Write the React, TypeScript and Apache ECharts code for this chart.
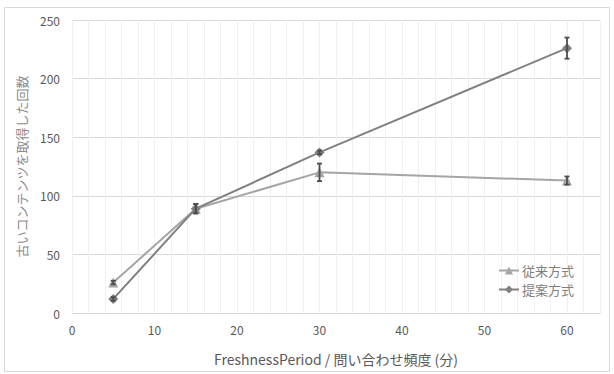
import React, { useEffect, useRef } from "react";
import * as echarts from "echarts";

const xValues = [5, 15, 30, 60];
const seriesNames = ["従来方式", "提案方式"];
const conventional = [26, 89, 120, 113];
const proposed = [12, 89, 137, 226];
const conventionalErr = [1.5, 4, 7.5, 3.5];
const proposedErr = [1.5, 4, 1.5, 9];
const xTickLabels = [0, 10, 20, 30, 40, 50, 60];
const xAxisTitle = "FreshnessPeriod / 問い合わせ頻度 (分)";
const yAxisTitle = "古いコンテンツを取得した回数";

const FONT = "'Noto Sans CJK JP', 'Noto Sans', sans-serif";

export default function App() {
  const ref = useRef<HTMLDivElement>(null);
  useEffect(() => {
    document.body.style.margin = "0";
    const chart = echarts.init(ref.current!, null, { renderer: "svg" });
    const errData = (vals: number[], errs: number[]) =>
      xValues.map((x, i) => [x, vals[i] - errs[i], vals[i] + errs[i]]);
    const errSeries = (data: number[][]) => ({
      type: "custom",
      silent: true,
      z: 5,
      data,
      renderItem: (params: any, api: any) => {
        const lo = api.coord([api.value(0), api.value(1)]);
        const hi = api.coord([api.value(0), api.value(2)]);
        const w = 2.5;
        const style = { stroke: "#4d4d4d", lineWidth: 1.8 };
        return {
          type: "group",
          children: [
            { type: "line", shape: { x1: lo[0], y1: lo[1], x2: hi[0], y2: hi[1] }, style },
            { type: "line", shape: { x1: lo[0] - w, y1: lo[1], x2: lo[0] + w, y2: lo[1] }, style },
            { type: "line", shape: { x1: hi[0] - w, y1: hi[1], x2: hi[0] + w, y2: hi[1] }, style },
          ],
        };
      },
    });
    chart.setOption({
      animation: false,
      textStyle: { fontFamily: FONT },
      graphic: [
        {
          type: "rect",
          shape: { x: 4.5, y: 7.5, width: 605, height: 364 },
          style: { fill: "none", stroke: "#d9d9d9", lineWidth: 1 },
          silent: true,
        },
      ],
      grid: { left: 72, right: 14, top: 20, bottom: 61, containLabel: false },
      legend: {
        orient: "vertical",
        right: 35,
        top: 259,
        itemWidth: 20,
        itemHeight: 10,
        itemGap: 6,
        textStyle: { color: "#7f7f7f", fontSize: 13, fontFamily: FONT, padding: [0, 0, 0, -2] },
        data: seriesNames,
      },
      xAxis: {
        type: "value",
        min: 0,
        max: 64,
        interval: 2,
        axisLine: { show: true, lineStyle: { color: "#d9d9d9", width: 1 } },
        axisTick: { show: false },
        splitLine: { show: true, lineStyle: { color: "#f0f0f0", width: 1 } },
        axisLabel: {
          color: "#595959",
          fontSize: 12,
          margin: 10,
          fontFamily: FONT,
          formatter: (v: number) => (xTickLabels.includes(v) ? String(v) : ""),
        },
        name: xAxisTitle,
        nameLocation: "middle",
        nameGap: 39,
        nameTextStyle: { color: "#595959", fontSize: 14, fontFamily: FONT },
      },
      yAxis: {
        type: "value",
        min: 0,
        max: 250,
        interval: 50,
        axisLine: { show: false },
        axisTick: { show: false },
        splitLine: { show: true, lineStyle: { color: "#d9d9d9", width: 1 } },
        axisLabel: { color: "#595959", fontSize: 12, margin: 12, fontFamily: FONT },
        name: yAxisTitle,
        nameLocation: "middle",
        nameRotate: 90,
        nameGap: 44,
        nameTextStyle: { color: "#8c8c8c", fontSize: 13, fontFamily: FONT },
      },
      series: [
        {
          name: seriesNames[0],
          type: "line",
          data: xValues.map((x, i) => [x, conventional[i]]),
          symbol: "triangle",
          symbolSize: 10,
          itemStyle: { color: "#a5a5a5" },
          lineStyle: { color: "#a5a5a5", width: 2 },
          z: 3,
        },
        {
          name: seriesNames[1],
          type: "line",
          data: xValues.map((x, i) => [x, proposed[i]]),
          symbol: "diamond",
          symbolSize: 10,
          itemStyle: { color: "#808080" },
          lineStyle: { color: "#808080", width: 2 },
          z: 4,
        },
        errSeries(errData(conventional, conventionalErr)),
        errSeries(errData(proposed, proposedErr)),
      ],
    });
    return () => chart.dispose();
  }, []);
  return <div ref={ref} style={{ width: 614, height: 374 }} />;
}
